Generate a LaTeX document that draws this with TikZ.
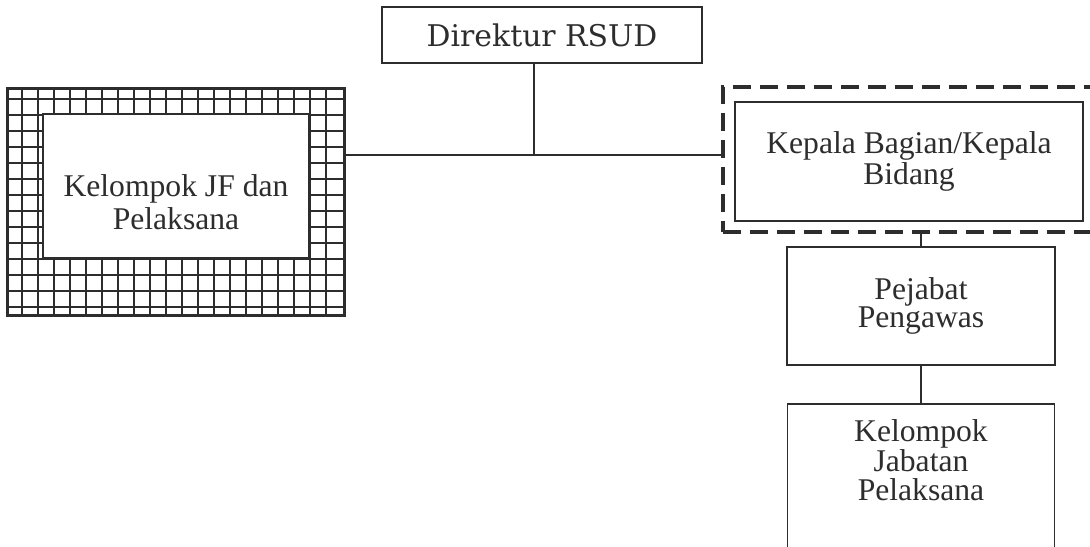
\documentclass[tikz,border=0pt]{standalone}
\usepackage{fontspec}
\setmainfont{Liberation Serif}
\newfontfamily\dirfont{DejaVu Serif}
\usetikzlibrary{positioning}
\definecolor{ink}{RGB}{45,45,45}

\begin{document}
\begin{tikzpicture}[x=0.02cm, y=-0.02cm, color=ink,
        box/.style = {draw, align=center, inner sep=0pt, font=\fontsize{18}{16}\selectfont},
        outline/.style = {draw, line width=2.3pt, dash pattern=on 0.36cm off 0.18cm},
        link/.style = {line width=0.8pt}]
        \useasboundingbox (0,0) rectangle (1090,547);
        % hatched frame of the left box
        \begin{scope}
            \clip (7,88) rectangle (345,316);
            \foreach \gx in {22,38,...,338} \draw[line width=1pt] (\gx,88) -- (\gx,316);
            \foreach \gy in {99,115,...,307} \draw[line width=1pt] (7,\gy) -- (345,\gy);
        \end{scope}
        \draw[fill=white, line width=1pt] (43,114) rectangle (309,258);
        \node[box, line width=1.4pt, minimum width=6.4cm, minimum height=1.12cm,
              font=\dirfont\fontsize{17}{20}\selectfont] (dir) at (542,35) {Direktur RSUD};
        \node[box, line width=1.7pt, minimum width=6.76cm, minimum height=4.56cm,
              font=\fontsize{18}{19}\selectfont] (jf) at (176,202) {Kelompok JF dan\\Pelaksana};
        \node[outline, minimum width=7.74cm, minimum height=2.9cm] (kb) at (916.5,159.5) {};
        \node[box, line width=1.4pt, minimum width=6.96cm, minimum height=2.38cm] (kep) at (909,161.5) {Kepala Bagian/Kepala\\Bidang};
        \node[box, line width=0.9pt, minimum width=5.36cm, minimum height=2.36cm] (pej) at (921,306) {Pejabat\\Pengawas};
        \node[box, line width=0.9pt, minimum width=5.34cm, anchor=north, inner ysep=9pt,
              text depth=5cm] (kjp) at (921,403) {Kelompok\\Jabatan\\Pelaksana};
        \coordinate (hub) at (534,155);
        \draw[link] (dir.south -| hub) -- (hub);
        \draw[link] (jf.east |- hub) -- (kb.west |- hub);
        \draw[link] (kb.south -| pej.north) -- (pej.north);
        \draw[link] (pej.south) -- (kjp.north);
    \end{tikzpicture}
\end{document}
